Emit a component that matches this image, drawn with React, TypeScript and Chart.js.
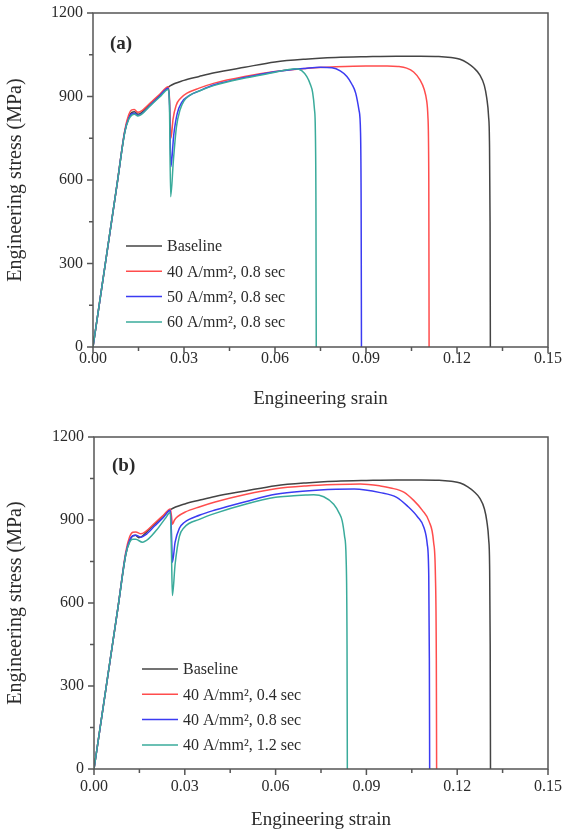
import React, { useEffect, useRef } from "react";
import { Chart, registerables } from "chart.js";

Chart.register(...registerables);

const FONT = "'Liberation Serif', 'Times New Roman', Times, serif";
const TEXT_COLOR = "#2b2b2b";
const AXIS_COLOR = "#555555";

// Axis ticks
const strainTickStep = 0.03;
const stressTickStep = 300;
const strainMax = 0.15;
const stressMax = 1200;

// Series colours
const colorBaseline = "#444444";
const colorRed = "#ff4d4d";
const colorBlue = "#3b3bf2";
const colorTeal = "#3aab9b";

// Baseline (same specimen in both panels)
const baselineStrain = [0, 0.004, 0.008, 0.0105, 0.0118, 0.0128, 0.0137, 0.0148, 0.016, 0.019, 0.022, 0.0254, 0.03, 0.035, 0.04, 0.05, 0.06, 0.07, 0.08, 0.09, 0.1, 0.108, 0.114, 0.118, 0.121, 0.1235, 0.1255, 0.1275, 0.129, 0.1298, 0.1304, 0.1307, 0.1309, 0.131];
const baselineStress = [0, 295, 590, 775, 825, 843, 845, 836, 842, 875, 905, 938, 958, 972, 985, 1005, 1024, 1034, 1040, 1043, 1045, 1045, 1044, 1040, 1034, 1020, 1003, 978, 940, 895, 830, 740, 450, 0];

// Panel (a): 40 / 50 / 60 A/mm², 0.8 sec
const a40Strain = [0, 0.004, 0.008, 0.0105, 0.0118, 0.0128, 0.0136, 0.0148, 0.016, 0.019, 0.022, 0.0248, 0.0252, 0.0257, 0.0264, 0.0274, 0.0288, 0.031, 0.035, 0.04, 0.05, 0.06, 0.07, 0.08, 0.09, 0.097, 0.1005, 0.1034, 0.1057, 0.1078, 0.1092, 0.11, 0.1104, 0.1107, 0.1108];
const a40Stress = [0, 295, 590, 780, 835, 852, 853, 843, 848, 878, 908, 935, 895, 750, 820, 868, 893, 912, 930, 948, 972, 990, 1001, 1007, 1010, 1010, 1008, 1002, 988, 960, 925, 885, 830, 600, 0];

const a50Strain = [0, 0.004, 0.008, 0.0105, 0.0118, 0.0128, 0.0137, 0.0148, 0.016, 0.019, 0.022, 0.0248, 0.0252, 0.0257, 0.0266, 0.0278, 0.0292, 0.032, 0.035, 0.04, 0.05, 0.06, 0.07, 0.075, 0.0788, 0.0815, 0.0837, 0.0853, 0.0866, 0.0877, 0.0882, 0.0884, 0.0885];
const a50Stress = [0, 295, 590, 775, 822, 838, 840, 832, 838, 870, 902, 930, 885, 648, 760, 840, 878, 905, 920, 942, 968, 989, 1001, 1005, 1003, 992, 972, 945, 912, 850, 770, 500, 0];

const a60Strain = [0, 0.004, 0.008, 0.0105, 0.0118, 0.0128, 0.0137, 0.0148, 0.016, 0.019, 0.022, 0.0248, 0.0252, 0.0256, 0.0265, 0.0275, 0.0287, 0.03, 0.032, 0.035, 0.04, 0.05, 0.06, 0.064, 0.0668, 0.0688, 0.0705, 0.0716, 0.0724, 0.073, 0.0733, 0.0735, 0.0736];
const a60Stress = [0, 295, 590, 772, 818, 833, 836, 830, 836, 868, 898, 925, 870, 540, 670, 790, 852, 884, 905, 920, 940, 966, 987, 996, 1000, 993, 971, 945, 915, 855, 780, 500, 0];

// Panel (b): 40 A/mm², 0.4 / 0.8 / 1.2 sec
const b04Strain = [0, 0.004, 0.008, 0.0105, 0.0118, 0.0128, 0.0138, 0.0155, 0.017, 0.02, 0.023, 0.0252, 0.0256, 0.0259, 0.0266, 0.0276, 0.03, 0.035, 0.04, 0.05, 0.06, 0.07, 0.08, 0.088, 0.0946, 0.098, 0.1025, 0.1057, 0.1085, 0.1107, 0.1122, 0.1128, 0.1131, 0.1132];
const b04Stress = [0, 295, 590, 785, 840, 856, 857, 850, 858, 888, 918, 940, 915, 885, 900, 912, 928, 948, 965, 992, 1013, 1023, 1028, 1030, 1023, 1016, 1000, 970, 935, 895, 820, 700, 400, 0];

const b08Strain = [0, 0.004, 0.008, 0.0105, 0.0118, 0.0128, 0.0138, 0.0155, 0.017, 0.02, 0.023, 0.0252, 0.0256, 0.0259, 0.0268, 0.0282, 0.0298, 0.035, 0.04, 0.05, 0.06, 0.07, 0.08, 0.086, 0.0946, 0.1, 0.1035, 0.107, 0.109, 0.1101, 0.1106, 0.1108, 0.1109];
const b08Stress = [0, 295, 590, 778, 828, 843, 845, 838, 846, 878, 910, 935, 850, 747, 820, 870, 891, 918, 936, 966, 993, 1005, 1011, 1012, 999, 982, 951, 910, 873, 813, 700, 400, 0];

const b12Strain = [0, 0.004, 0.008, 0.0105, 0.0118, 0.0128, 0.0138, 0.016, 0.018, 0.021, 0.0235, 0.0252, 0.0256, 0.0259, 0.0268, 0.0282, 0.0298, 0.035, 0.04, 0.05, 0.06, 0.065, 0.07, 0.0726, 0.0759, 0.0792, 0.081, 0.082, 0.0828, 0.0833, 0.0836, 0.0837];
const b12Stress = [0, 295, 590, 775, 820, 830, 830, 820, 832, 868, 905, 927, 780, 627, 740, 840, 873, 903, 924, 957, 982, 987, 990, 991, 984, 957, 925, 897, 840, 760, 450, 0];

const labelsA = ["Baseline", "40 A/mm², 0.8 sec", "50 A/mm², 0.8 sec", "60 A/mm², 0.8 sec"];
const labelsB = ["Baseline", "40 A/mm², 0.4 sec", "40 A/mm², 0.8 sec", "40 A/mm², 1.2 sec"];

function toPoints(strain: number[], stress: number[]) {
  return strain.map((x, i) => ({ x, y: stress[i] }));
}

function makeDataset(label: string, color: string, strain: number[], stress: number[], order: number) {
  return {
    label,
    data: toPoints(strain, stress),
    borderColor: color,
    backgroundColor: color,
    borderWidth: 1.5,
    pointRadius: 0,
    cubicInterpolationMode: "monotone" as const,
    fill: false,
    order,
  };
}

const decorPlugin = {
  id: "decor",
  afterDraw(chart: any, _args: any, opts: any) {
    const { ctx, chartArea } = chart;
    const { left, right, top, bottom } = chartArea;
    const xs = chart.scales.x;
    const ys = chart.scales.y;
    ctx.save();
    ctx.strokeStyle = AXIS_COLOR;
    ctx.lineWidth = 1.5;
    // ticks (major + minor), outward
    for (let i = 0; i <= 10; i++) {
      const px = xs.getPixelForValue((i * strainTickStep) / 2);
      const len = i % 2 === 0 ? 6 : 4;
      ctx.beginPath();
      ctx.moveTo(px, bottom);
      ctx.lineTo(px, bottom + len);
      ctx.stroke();
    }
    for (let i = 0; i <= 8; i++) {
      const py = ys.getPixelForValue((i * stressTickStep) / 2);
      const len = i % 2 === 0 ? 6 : 4;
      ctx.beginPath();
      ctx.moveTo(left, py);
      ctx.lineTo(left - len, py);
      ctx.stroke();
    }
    ctx.strokeRect(left, top, right - left, bottom - top);

    // panel label
    ctx.fillStyle = TEXT_COLOR;
    ctx.font = `bold 19px ${FONT}`;
    ctx.textAlign = "left";
    ctx.textBaseline = "middle";
    ctx.fillText(opts.panel, left + opts.panelX, top + opts.panelY);

    // legend
    ctx.font = `16px ${FONT}`;
    const dsets = chart.data.datasets;
    dsets.forEach((ds: any, i: number) => {
      const y = top + opts.legendY + i * opts.rowGap;
      const x0 = left + opts.legendX;
      ctx.strokeStyle = ds.borderColor;
      ctx.lineWidth = 1.5;
      ctx.beginPath();
      ctx.moveTo(x0, y);
      ctx.lineTo(x0 + opts.lineLen, y);
      ctx.stroke();
      ctx.fillStyle = TEXT_COLOR;
      ctx.fillText(ds.label, x0 + opts.lineLen + 5, y + 1);
    });
    ctx.restore();
  },
};

function makeConfig(datasets: any[], p: any) {
  return {
    type: "line" as const,
    data: { datasets },
    plugins: [decorPlugin],
    options: {
      responsive: false,
      animation: false as const,
      events: [],
      layout: { padding: { left: 0, right: 15, top: p.padTop, bottom: 0 } },
      plugins: {
        legend: { display: false },
        tooltip: { enabled: false },
        decor: p.decor,
      },
      scales: {
        x: {
          type: "linear" as const,
          min: 0,
          max: strainMax,
          border: { display: false },
          grid: { display: false, drawTicks: false },
          ticks: {
            stepSize: strainTickStep,
            padding: p.xTickPad,
            color: TEXT_COLOR,
            font: { family: FONT, size: 16 },
            maxRotation: 0,
            autoSkip: false,
            callback: (v: any) => Number(v).toFixed(2),
          },
          title: {
            display: true,
            text: p.xTitle,
            color: TEXT_COLOR,
            font: { family: FONT, size: 19 },
            padding: { top: 0, bottom: p.xTitlePad },
          },
          afterFit: (s: any) => {
            s.height = p.xHeight;
            s.paddingLeft = 0;
            s.paddingRight = 0;
          },
        },
        y: {
          type: "linear" as const,
          min: 0,
          max: stressMax,
          border: { display: false },
          grid: { display: false, drawTicks: false },
          ticks: {
            stepSize: stressTickStep,
            padding: 10,
            color: TEXT_COLOR,
            font: { family: FONT, size: 16 },
            callback: (v: any) => String(Math.round(Number(v))),
          },
          title: {
            display: true,
            text: "Engineering stress (MPa)",
            color: TEXT_COLOR,
            font: { family: FONT, size: 20 },
            padding: { top: 4, bottom: 0 },
          },
          afterFit: (s: any) => {
            s.width = p.yWidth;
            s.paddingTop = 0;
            s.paddingBottom = 0;
          },
        },
      },
    },
  };
}

export default function App() {
  const refA = useRef<HTMLCanvasElement | null>(null);
  const refB = useRef<HTMLCanvasElement | null>(null);

  useEffect(() => {
    const dsA = [
      makeDataset(labelsA[0], colorBaseline, baselineStrain, baselineStress, 4),
      makeDataset(labelsA[1], colorRed, a40Strain, a40Stress, 3),
      makeDataset(labelsA[2], colorBlue, a50Strain, a50Stress, 2),
      makeDataset(labelsA[3], colorTeal, a60Strain, a60Stress, 1),
    ];
    const dsB = [
      makeDataset(labelsB[0], colorBaseline, baselineStrain, baselineStress, 4),
      makeDataset(labelsB[1], colorRed, b04Strain, b04Stress, 3),
      makeDataset(labelsB[2], colorBlue, b08Strain, b08Stress, 2),
      makeDataset(labelsB[3], colorTeal, b12Strain, b12Stress, 1),
    ];
    const chartA = new Chart(
      refA.current as HTMLCanvasElement,
      makeConfig(dsA, {
        padTop: 13,
        xHeight: 70,
        yWidth: 93,
        xTickPad: 2,
        xTitlePad: 7,
        xTitle: "Engineering srain",
        decor: { panel: "(a)", panelX: 17, panelY: 31, legendX: 33, legendY: 233, rowGap: 25.3, lineLen: 36 },
      }) as any
    );
    const chartB = new Chart(
      refB.current as HTMLCanvasElement,
      makeConfig(dsB, {
        padTop: 20,
        xHeight: 65,
        yWidth: 94,
        xTickPad: 8,
        xTitlePad: 3,
        xTitle: "Engineering strain",
        decor: { panel: "(b)", panelX: 18, panelY: 29, legendX: 48, legendY: 232, rowGap: 25.3, lineLen: 36 },
      }) as any
    );
    return () => {
      chartA.destroy();
      chartB.destroy();
    };
  }, []);

  return (
    <div style={{ position: "absolute", left: 0, top: 0, width: 563, height: 834, background: "#fff" }}>
      <canvas ref={refA} width={563} height={417} style={{ position: "absolute", left: 0, top: 0, display: "block" }} />
      <canvas ref={refB} width={563} height={417} style={{ position: "absolute", left: 0, top: 417, display: "block" }} />
    </div>
  );
}
